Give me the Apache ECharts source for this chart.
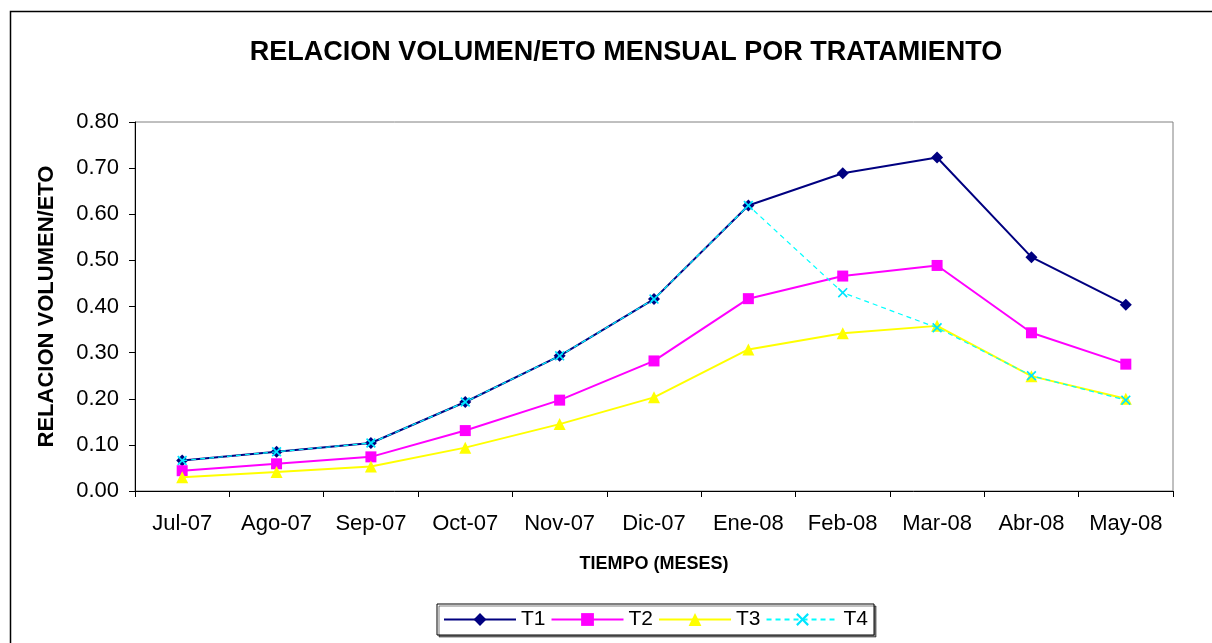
<!DOCTYPE html>
<html><head><meta charset="utf-8">
<script src="https://cdn.jsdelivr.net/npm/echarts@6/dist/echarts.min.js"></script>
<style>html,body{margin:0;padding:0;background:#fff}#c{width:1212px;height:643px}</style>
</head><body><div id="c"></div>
<script>
const categories = ['Jul-07','Ago-07','Sep-07','Oct-07','Nov-07','Dic-07','Ene-08','Feb-08','Mar-08','Abr-08','May-08'];
const T1 = [0.066,0.085,0.104,0.193,0.293,0.416,0.619,0.689,0.723,0.507,0.404];
const T2 = [0.044,0.059,0.074,0.131,0.197,0.282,0.417,0.466,0.489,0.343,0.275];
const T3 = [0.030,0.041,0.053,0.094,0.145,0.203,0.307,0.342,0.358,0.249,0.200];
const T4 = [0.066,0.085,0.104,0.193,0.293,0.416,0.619,0.430,0.354,0.250,0.197];
const yTicks = {min:0, max:0.8, interval:0.1};

const FONT = '"Liberation Sans", Arial, sans-serif';
const xPath = 'path://M0,1.2L1.2,0L5,3.8L8.8,0L10,1.2L6.2,5L10,8.8L8.8,10L5,6.2L1.2,10L0,8.8L3.8,5Z';

const chart = echarts.init(document.getElementById('c'), null, {renderer:'canvas'});
chart.setOption({
  animation:false,
  backgroundColor:'#fff',
  textStyle:{fontFamily:FONT},
  graphic:[{type:'rect', shape:{x:10.5,y:11.5,width:1400,height:800}, style:{fill:'none',stroke:'#000',lineWidth:1.5}, z:-10}],
  title:{text:'RELACION VOLUMEN/ETO MENSUAL POR TRATAMIENTO', left:621, textAlign:'center', top:34,
    textStyle:{fontFamily:FONT,fontSize:27,fontWeight:'bold',color:'#000'}},
  grid:{left:135, right:39, top:122, bottom:152, show:true, borderColor:'#808080', borderWidth:1, backgroundColor:'#fff'},
  legend:{left:437, top:604, padding:[5,6], itemGap:5, itemWidth:72, itemHeight:16,
    borderColor:'#000', borderWidth:1, backgroundColor:'#fff',
    shadowColor:'rgba(0,0,0,0.5)', shadowOffsetX:2, shadowOffsetY:2, shadowBlur:0,
    textStyle:{fontFamily:FONT,fontSize:21,color:'#000'},
    data:['T1','T2','T3','T4']},
  xAxis:{type:'category', data:categories, boundaryGap:true,
    name:'TIEMPO (MESES)', nameLocation:'middle', nameGap:64,
    nameTextStyle:{fontFamily:FONT,fontSize:18,fontWeight:'bold',color:'#000'},
    axisLine:{lineStyle:{color:'#000',width:1}},
    axisTick:{show:true, length:6, lineStyle:{color:'#000'}},
    axisLabel:{fontFamily:FONT,fontSize:22,color:'#000',margin:22, interval:0},
    splitLine:{show:false}},
  yAxis:{type:'value', min:yTicks.min, max:yTicks.max, interval:yTicks.interval,
    name:'RELACION VOLUMEN/ETO', nameLocation:'middle', nameGap:77, nameRotate:90,
    nameTextStyle:{fontFamily:FONT,fontSize:22,fontWeight:'bold',color:'#000'},
    axisLine:{show:true,lineStyle:{color:'#000',width:1}},
    axisTick:{show:true, length:6, lineStyle:{color:'#000'}},
    axisLabel:{fontFamily:FONT,fontSize:22,color:'#000',margin:16, formatter:v=>v.toFixed(2)},
    splitLine:{show:false}},
  series:[
    {name:'T1', type:'line', data:T1, symbol:'diamond', symbolSize:12,
      lineStyle:{color:'#000080',width:2}, itemStyle:{color:'#000080'}, z:2},
    {name:'T2', type:'line', data:T2, symbol:'rect', symbolSize:11,
      lineStyle:{color:'#FF00FF',width:2}, itemStyle:{color:'#FF00FF'}, z:3},
    {name:'T3', type:'line', data:T3, symbol:'triangle', symbolSize:12,
      lineStyle:{color:'#FFFF00',width:2}, itemStyle:{color:'#FFFF00'}, z:4},
    {name:'T4', type:'line', data:T4, symbol:xPath, symbolSize:10,
      lineStyle:{color:'#00FFFF',width:1.2,type:[5,4]}, itemStyle:{color:'#00E5FF'}, z:5}
  ]
});
</script></body></html>
